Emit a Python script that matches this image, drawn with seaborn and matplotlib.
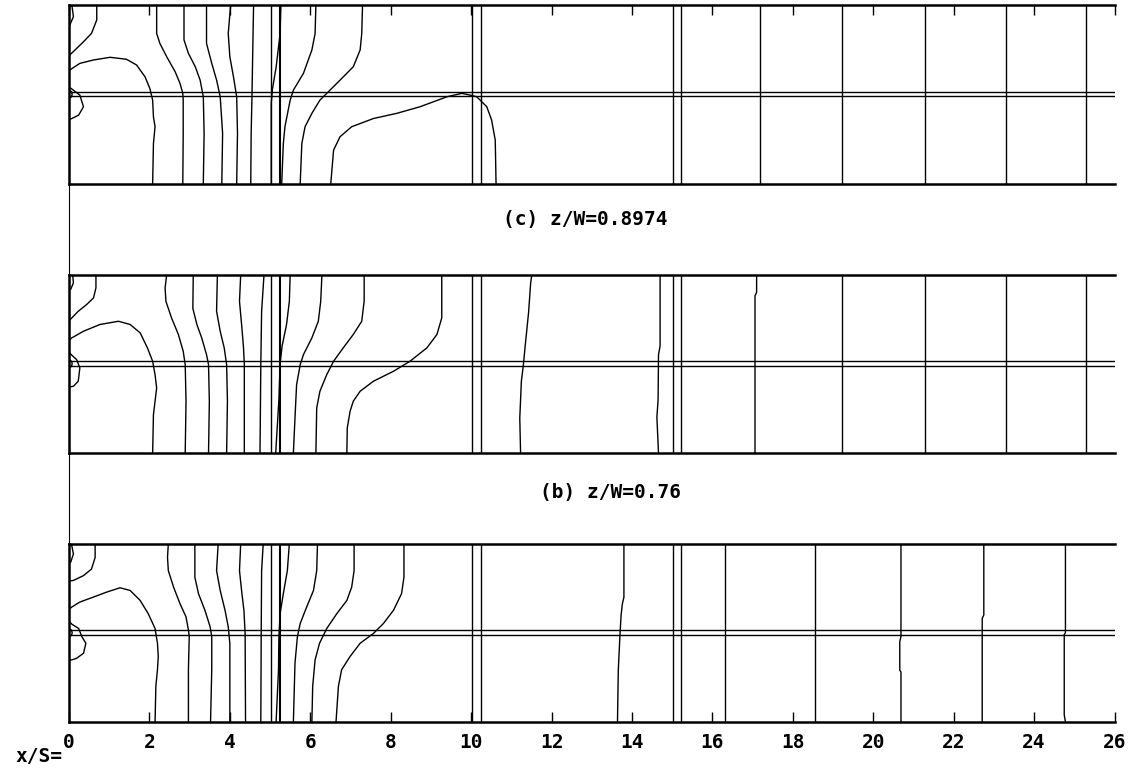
import numpy as np
import pandas as pd
import matplotlib
matplotlib.use("Agg")
import matplotlib.pyplot as plt
from matplotlib.lines import Line2D
import seaborn as sns

# ---------------- data (x/S along channel, y normalised 0..1 across passage) -------------
X_TICKS = list(range(0, 27, 2))
STRUCT_X = [5.02, 5.25, 10.02, 10.24, 15.02, 15.23]     # double structure lines
CHANNEL_Y = [0.49, 0.513]                                # horizontal double line

TITLE_C = "(c) z/W=0.8974"
TITLE_B = "(b) z/W=0.76"
X_PREFIX = "x/S="

# top panel contours
TOP_X = [
    [0.07, 0.11, 0.02],
    [0.69, 0.69, 0.56, 0.36, 0.15, 0.02],
    [0.02, 0.27, 0.61, 1.02, 1.43, 1.68, 1.89, 2.01, 2.08, 2.10, 2.14, 2.10, 2.08],
    [0.02, 0.27, 0.36, 0.24, 0.07, 0.02],
    [0.02, 0.06, 0.08, 0.06, 0.02],
    [2.18, 2.18, 2.26, 2.43, 2.64, 2.76, 2.83, 2.84, 2.84, 2.83],
    [2.86, 2.86, 2.97, 3.14, 3.26, 3.34, 3.36, 3.34],
    [3.42, 3.42, 3.55, 3.67, 3.76, 3.82, 3.80],
    [4.02, 3.96, 4.00, 4.09, 4.17, 4.19, 4.17],
    [4.59, 4.57, 4.55, 4.53, 4.52],
    [5.27, 5.25, 5.15, 5.06, 5.03, 5.03],
    [6.14, 6.12, 6.04, 5.83, 5.58, 5.50, 5.37, 5.33, 5.29],
    [7.30, 7.28, 7.24, 7.07, 6.74, 6.45, 6.24, 6.04, 5.87, 5.79, 5.75],
    [6.51, 6.58, 6.74, 7.03, 7.57, 8.15, 8.73, 9.40, 9.77, 9.98, 10.14, 10.39, 10.51, 10.60, 10.62],
]
TOP_Y = [
    [1.0, 0.935, 0.888],
    [1.0, 0.916, 0.841, 0.794, 0.748, 0.72],
    [0.636, 0.673, 0.692, 0.707, 0.696, 0.664, 0.598, 0.533, 0.467, 0.374, 0.318, 0.224, 0.0],
    [0.538, 0.495, 0.43, 0.383, 0.364, 0.36],
    [0.52, 0.515, 0.50, 0.485, 0.48],
    [1.0, 0.841, 0.785, 0.71, 0.626, 0.561, 0.505, 0.467, 0.28, 0.0],
    [1.0, 0.804, 0.729, 0.654, 0.58, 0.486, 0.28, 0.0],
    [1.0, 0.785, 0.673, 0.58, 0.486, 0.28, 0.0],
    [1.0, 0.841, 0.71, 0.598, 0.486, 0.28, 0.0],
    [1.0, 0.748, 0.486, 0.28, 0.0],
    [1.0, 0.84, 0.65, 0.53, 0.45, 0.0],
    [1.0, 0.84, 0.748, 0.617, 0.523, 0.467, 0.318, 0.224, 0.0],
    [1.0, 0.84, 0.748, 0.654, 0.579, 0.514, 0.467, 0.393, 0.318, 0.224, 0.0],
    [0.0, 0.187, 0.262, 0.318, 0.364, 0.393, 0.43, 0.486, 0.505, 0.495, 0.486, 0.43, 0.355, 0.243, 0.0],
]
TOP_STRAIGHT = [17.19, 19.22, 21.28, 23.31, 25.29]

# middle panel contours
MID_X = [
    [0.09, 0.11, 0.04],
    [0.67, 0.67, 0.61, 0.44, 0.23, 0.07, 0.02],
    [0.02, 0.07, 0.36, 0.77, 1.23, 1.52, 1.77, 1.95, 2.08, 2.14, 2.18, 2.14, 2.10, 2.08],
    [0.02, 0.07, 0.19, 0.27, 0.23, 0.11, 0.02],
    [0.02, 0.06, 0.08, 0.06, 0.02],
    [2.43, 2.39, 2.41, 2.55, 2.72, 2.84, 2.89, 2.91, 2.89],
    [3.09, 3.08, 3.18, 3.30, 3.42, 3.47, 3.49, 3.47],
    [3.69, 3.67, 3.76, 3.86, 3.92, 3.94, 3.92],
    [4.27, 4.24, 4.30, 4.34, 4.36, 4.36],
    [4.85, 4.79, 4.77, 4.75],
    [5.50, 5.48, 5.41, 5.30, 5.25, 5.22, 5.14],
    [6.29, 6.26, 6.20, 6.04, 5.83, 5.75, 5.66, 5.62, 5.58],
    [7.34, 7.34, 7.28, 7.07, 6.82, 6.58, 6.41, 6.24, 6.16, 6.14],
    [9.27, 9.27, 9.15, 8.90, 8.48, 8.07, 7.57, 7.24, 7.07, 6.99, 6.92, 6.91],
    [11.51, 11.48, 11.43, 11.34, 11.30, 11.25, 11.21, 11.23],
    [14.70, 14.70, 14.66, 14.65, 14.62, 14.65, 14.66],
    [17.10, 17.10, 17.06, 17.06],
]
MID_Y = [
    [1.0, 0.953, 0.916],
    [1.0, 0.925, 0.869, 0.832, 0.794, 0.757, 0.745],
    [0.635, 0.645, 0.682, 0.72, 0.738, 0.72, 0.673, 0.589, 0.514, 0.439, 0.364, 0.29, 0.215, 0.0],
    [0.56, 0.548, 0.523, 0.477, 0.402, 0.374, 0.37],
    [0.52, 0.515, 0.50, 0.485, 0.48],
    [1.0, 0.925, 0.85, 0.757, 0.664, 0.57, 0.495, 0.29, 0.0],
    [1.0, 0.81, 0.72, 0.645, 0.551, 0.495, 0.29, 0.0],
    [1.0, 0.794, 0.682, 0.589, 0.495, 0.29, 0.0],
    [1.0, 0.85, 0.70, 0.589, 0.495, 0.0],
    [1.0, 0.794, 0.495, 0.0],
    [1.0, 0.85, 0.72, 0.60, 0.50, 0.30, 0.0],
    [1.0, 0.85, 0.738, 0.645, 0.551, 0.495, 0.383, 0.196, 0.0],
    [1.0, 0.85, 0.738, 0.664, 0.589, 0.514, 0.439, 0.346, 0.252, 0.0],
    [1.0, 0.757, 0.664, 0.589, 0.514, 0.458, 0.402, 0.346, 0.29, 0.234, 0.14, 0.0],
    [1.0, 0.95, 0.79, 0.589, 0.495, 0.402, 0.196, 0.0],
    [1.0, 0.60, 0.55, 0.30, 0.20, 0.05, 0.0],
    [1.0, 0.90, 0.88, 0.0],
]
MID_STRAIGHT = [19.22, 21.29, 23.31, 25.28]

# bottom panel contours
BOT_X = [
    [0.06, 0.07, 0.11, 0.04],
    [0.65, 0.65, 0.56, 0.36, 0.11, 0.02],
    [0.02, 0.07, 0.27, 0.61, 0.94, 1.27, 1.52, 1.77, 1.97, 2.14, 2.20, 2.22, 2.20, 2.16, 2.14],
    [0.02, 0.07, 0.24, 0.32, 0.42, 0.36, 0.19, 0.07, 0.02],
    [0.02, 0.06, 0.08, 0.06, 0.02],
    [2.47, 2.45, 2.47, 2.60, 2.76, 2.91, 2.97, 2.99, 2.97, 2.97],
    [3.13, 3.13, 3.22, 3.38, 3.51, 3.55, 3.55, 3.52],
    [3.71, 3.67, 3.76, 3.88, 3.96, 4.00, 4.00],
    [4.27, 4.24, 4.30, 4.35, 4.38, 4.39],
    [4.83, 4.79, 4.78, 4.77],
    [5.48, 5.43, 5.33, 5.25, 5.22, 5.21, 5.15],
    [6.18, 6.16, 6.08, 5.91, 5.75, 5.68, 5.62, 5.58],
    [7.09, 7.09, 7.03, 6.91, 6.66, 6.41, 6.23, 6.12, 6.06, 6.04],
    [8.33, 8.33, 8.27, 8.07, 7.82, 7.57, 7.24, 6.99, 6.78, 6.70, 6.64],
    [13.80, 13.80, 13.76, 13.73, 13.70, 13.66, 13.64],
    [20.69, 20.69, 20.66, 20.66, 20.69, 20.69],
    [22.75, 22.75, 22.71, 22.71],
    [24.78, 24.78, 24.75, 24.75, 24.78],
]
BOT_Y = [
    [1.0, 0.987, 0.941, 0.894],
    [1.0, 0.922, 0.857, 0.82, 0.793, 0.79],
    [0.635, 0.644, 0.672, 0.70, 0.728, 0.752, 0.737, 0.681, 0.607, 0.524, 0.441, 0.367, 0.293, 0.2, 0.0],
    [0.56, 0.548, 0.524, 0.478, 0.441, 0.385, 0.357, 0.348, 0.348],
    [0.52, 0.515, 0.50, 0.485, 0.48],
    [1.0, 0.922, 0.848, 0.756, 0.663, 0.589, 0.515, 0.478, 0.293, 0.0],
    [1.0, 0.811, 0.719, 0.626, 0.533, 0.478, 0.293, 0.0],
    [1.0, 0.848, 0.737, 0.626, 0.533, 0.441, 0.0],
    [1.0, 0.848, 0.719, 0.626, 0.496, 0.0],
    [1.0, 0.848, 0.496, 0.0],
    [1.0, 0.848, 0.719, 0.607, 0.478, 0.293, 0.0],
    [1.0, 0.848, 0.737, 0.644, 0.552, 0.478, 0.33, 0.0],
    [1.0, 0.848, 0.756, 0.681, 0.607, 0.524, 0.441, 0.348, 0.2, 0.0],
    [1.0, 0.811, 0.719, 0.626, 0.552, 0.496, 0.441, 0.367, 0.293, 0.2, 0.0],
    [1.0, 0.70, 0.66, 0.60, 0.48, 0.29, 0.0],
    [1.0, 0.48, 0.45, 0.29, 0.28, 0.0],
    [1.0, 0.60, 0.58, 0.0],
    [1.0, 0.50, 0.49, 0.04, 0.0],
]
BOT_STRAIGHT = [16.32, 18.56]

# ---------------- figure ----------------
sns.set_style("white")
plt.rcParams['font.family'] = ['DejaVu Sans Mono', 'DejaVu Sans']
plt.rcParams['text.color'] = 'black'
plt.rcParams['xtick.color'] = 'black'
plt.rcParams['xtick.labelcolor'] = 'black'

W, H = 1136, 774
fig = plt.figure(figsize=(W / 100, H / 100), dpi=100)
fig.patch.set_facecolor("white")

LEFT_PX, RIGHT_PX, PANEL_H = 69.0, 1114.5, 178.5
PANEL_TOPS = [5.0, 274.5, 543.5]
FS = 14


def make_axes(top):
    return fig.add_axes([LEFT_PX / W, 1 - (top + PANEL_H) / H,
                         (RIGHT_PX - LEFT_PX) / W, PANEL_H / H])


def to_frame(xs_list, ys_list, straight):
    rows = []
    for i, (xs, ys) in enumerate(zip(xs_list, ys_list)):
        for x, y in zip(xs, ys):
            rows.append((i, x, y))
    for j, x in enumerate(straight):
        rows.append((1000 + j, x, 0.0))
        rows.append((1000 + j, x, 1.0))
    return pd.DataFrame(rows, columns=["line", "x", "y"])


panels = [(TOP_X, TOP_Y, TOP_STRAIGHT), (MID_X, MID_Y, MID_STRAIGHT), (BOT_X, BOT_Y, BOT_STRAIGHT)]
for k, (top, (px_, py_, ps_)) in enumerate(zip(PANEL_TOPS, panels)):
    ax = make_axes(top)
    df = to_frame(px_, py_, ps_)
    sns.lineplot(data=df, x="x", y="y", units="line", estimator=None, sort=False,
                 color="black", linewidth=1.0, ax=ax, legend=False)
    for sx in STRUCT_X:
        ax.axvline(sx, color="black", lw=1.5 if sx == STRUCT_X[1] else 1.0)
    for cy in CHANNEL_Y:
        ax.axhline(cy, color="black", lw=1.0)
    ax.set_xlim(0, 26)
    ax.set_ylim(0, 1)
    ax.set_xlabel("")
    ax.set_ylabel("")
    ax.set_yticks([])
    ax.set_facecolor("white")
    ax.spines["right"].set_visible(False)
    for s in ["top", "bottom", "left"]:
        ax.spines[s].set_visible(True)
        ax.spines[s].set_color("black")
        ax.spines[s].set_linewidth(1.8)
    ax.set_xticks(X_TICKS)
    if k == 0:
        ax.tick_params(axis="x", direction="in", top=True, bottom=False,
                       labeltop=False, labelbottom=False, length=7.5, width=1.0, color="black")
    elif k == 1:
        ax.tick_params(axis="x", top=False, bottom=False, labeltop=False, labelbottom=False)
    else:
        ax.tick_params(axis="x", direction="in", top=False, bottom=True,
                       labelbottom=True, length=7.5, width=1.0, color="black", pad=8)
        ax.set_xticklabels([str(t) for t in X_TICKS], fontsize=FS, fontweight="bold", color="black")

# left connecting line between panels
fig.add_artist(Line2D([LEFT_PX / W, LEFT_PX / W],
                      [1 - (PANEL_TOPS[0] + PANEL_H) / H, 1 - PANEL_TOPS[2] / H],
                      color="black", lw=0.8))

fig.text(503 / W, 1 - 220 / H, TITLE_C, ha="left", va="center", fontsize=FS, fontweight="bold", color="black")
fig.text(540 / W, 1 - 493 / H, TITLE_B, ha="left", va="center", fontsize=FS, fontweight="bold", color="black")
fig.text(62 / W, 1 - 757 / H, X_PREFIX, ha="right", va="center", fontsize=FS, fontweight="bold", color="black")

fig.savefig("out.png", dpi=100, facecolor="white")
